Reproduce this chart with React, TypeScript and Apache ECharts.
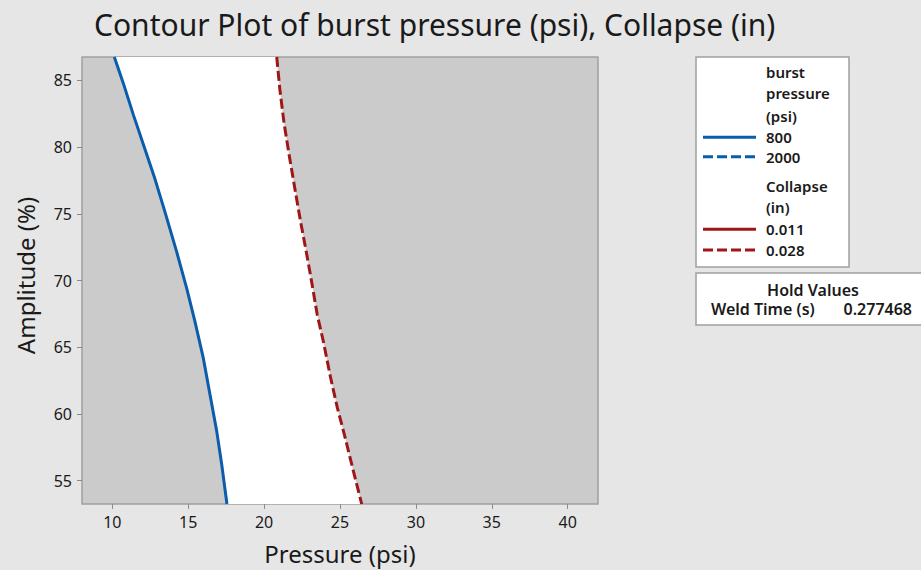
import React, { useEffect, useRef } from "react";
import * as echarts from "echarts";

// Contour 800 psi burst pressure (solid blue): pressure (psi) vs amplitude (%)
const burstAmp = [86.75, 84.79, 82.43, 79.83, 77.6, 75.12, 72.14, 69.41, 66.94, 64.2, 61.47, 58.75, 56.27, 53.25];
const burstPressure = [10.13, 10.72, 11.38, 12.15, 12.81, 13.47, 14.24, 14.9, 15.44, 15.99, 16.43, 16.87, 17.2, 17.55];

// Contour 0.028 in collapse (dashed red)
const collapseAmp = [86.75, 84.29, 81.82, 79.33, 76.85, 74.37, 72.39, 69.91, 67.43, 65.45, 62.72, 60.49, 58.26, 55.77, 53.25];
const collapsePressure = [20.83, 21.04, 21.31, 21.66, 22.03, 22.41, 22.74, 23.13, 23.5, 23.9, 24.38, 24.82, 25.33, 25.87, 26.43];

const xTicks = [10, 15, 20, 25, 30, 35, 40];
const yTicks = [55, 60, 65, 70, 75, 80, 85];

const burstLevels = ["800", "2000"];
const collapseLevels = ["0.011", "0.028"];
const holdLabel = "Weld Time (s)";
const holdValue = "0.277468";

const BLUE = "#0a5cad";
const RED = "#a01515";
const FONT = "'Noto Sans', 'Open Sans', sans-serif";
const TXT = "#1a1a1a";

export default function App() {
  const ref = useRef<HTMLDivElement>(null);
  useEffect(() => {
    if (!ref.current) return;
    const chart = echarts.init(ref.current, undefined, { renderer: "svg" });
    const burst = burstPressure.map((p, i) => [p, burstAmp[i]]);
    const collapse = collapsePressure.map((p, i) => [p, collapseAmp[i]]);

    const textStyle = (text: string, align: string, size = 15) => ({
      text,
      fontSize: size,
      lineHeight: size + 2,
      fontWeight: 600,
      fontFamily: FONT,
      fill: TXT,
      align,
      verticalAlign: "middle",
    });
    const legendText = (text: string, y: number) => ({
      type: "text",
      x: 766,
      y,
      style: textStyle(text, "left"),
    });
    const legendLine = (y: number, color: string, dashed: boolean) => ({
      type: "line",
      shape: { x1: 703, y1: y, x2: 756, y2: y },
      style: { stroke: color, lineWidth: 3, lineDash: dashed ? [10, 4] : null },
    });

    chart.setOption({
      animation: false,
      backgroundColor: "#e6e6e6",
      title: {
        text: "Contour Plot of burst pressure (psi), Collapse (in)",
        left: 89,
        top: 4,
        textStyle: { fontSize: 30, fontWeight: "normal", fontFamily: FONT, color: TXT },
      },
      grid: {
        left: 82,
        top: 57,
        right: 323,
        bottom: 63,
        show: true,
        backgroundColor: "#cbcbcb",
        borderColor: "#a0a0a0",
        borderWidth: 1.5,
      },
      xAxis: {
        type: "value",
        min: 8,
        max: 42,
        name: "Pressure (psi)",
        nameLocation: "middle",
        nameGap: 37,
        nameTextStyle: { fontSize: 24, fontFamily: FONT, color: TXT },
        axisLine: { show: false },
        splitLine: { show: false },
        axisTick: { show: true, length: 5, lineStyle: { color: "#8a8a8a" }, customValues: xTicks },
        axisLabel: { fontSize: 16, fontFamily: FONT, color: TXT, margin: 10, customValues: xTicks },
      },
      yAxis: {
        type: "value",
        min: 53.25,
        max: 86.75,
        name: "Amplitude (%)",
        nameLocation: "middle",
        nameGap: 45,
        nameTextStyle: { fontSize: 24, fontFamily: FONT, color: TXT, padding: [0, 0, 0, 10] },
        axisLine: { show: false },
        splitLine: { show: false },
        axisTick: { show: true, length: 5, lineStyle: { color: "#8a8a8a" }, customValues: yTicks },
        axisLabel: { fontSize: 16, fontFamily: FONT, color: TXT, margin: 10, customValues: yTicks },
      },
      series: [
        {
          type: "custom",
          data: [burst[0]],
          clip: true,
          silent: true,
          z: 1,
          renderItem: (params: any, api: any) => {
            const pts = [
              ...burst.map((p) => api.coord(p)),
              ...collapse.slice().reverse().map((p) => api.coord(p)),
            ];
            return { type: "polygon", shape: { points: pts }, style: { fill: "#ffffff" } };
          },
        },
        {
          type: "line",
          name: "800",
          data: burst,
          symbol: "none",
          z: 3,
          lineStyle: { color: BLUE, width: 3 },
        },
        {
          type: "line",
          name: "0.028",
          data: collapse,
          symbol: "none",
          z: 3,
          lineStyle: { color: RED, width: 3, type: [10, 4] },
        },
      ],
      graphic: [
        {
          type: "rect",
          shape: { x: 696, y: 57, width: 153, height: 210 },
          style: { fill: "#ffffff", stroke: "#a0a0a0", lineWidth: 1.5 },
        },
        legendText("burst", 71.7),
        legendText("pressure", 93.3),
        legendText("(psi)", 115.7),
        legendText(burstLevels[0], 137.3),
        legendText(burstLevels[1], 156.7),
        legendText("Collapse", 185.7),
        legendText("(in)", 206.7),
        legendText(collapseLevels[0], 229.3),
        legendText(collapseLevels[1], 250),
        legendLine(137.3, BLUE, false),
        legendLine(156.7, BLUE, true),
        legendLine(229.3, RED, false),
        legendLine(250, RED, true),
        {
          type: "rect",
          shape: { x: 696, y: 273, width: 240, height: 52 },
          style: { fill: "#ffffff", stroke: "#a0a0a0", lineWidth: 1.5 },
        },
        { type: "text", x: 813, y: 290, style: textStyle("Hold Values", "center", 16) },
        { type: "text", x: 711, y: 309, style: textStyle(holdLabel, "left", 16) },
        { type: "text", x: 912, y: 309, style: textStyle(holdValue, "right", 16) },
      ],
    });
    return () => chart.dispose();
  }, []);
  return (
    <div
      ref={ref}
      style={{ position: "fixed", left: 0, top: 0, width: 921, height: 570 }}
    />
  );
}
